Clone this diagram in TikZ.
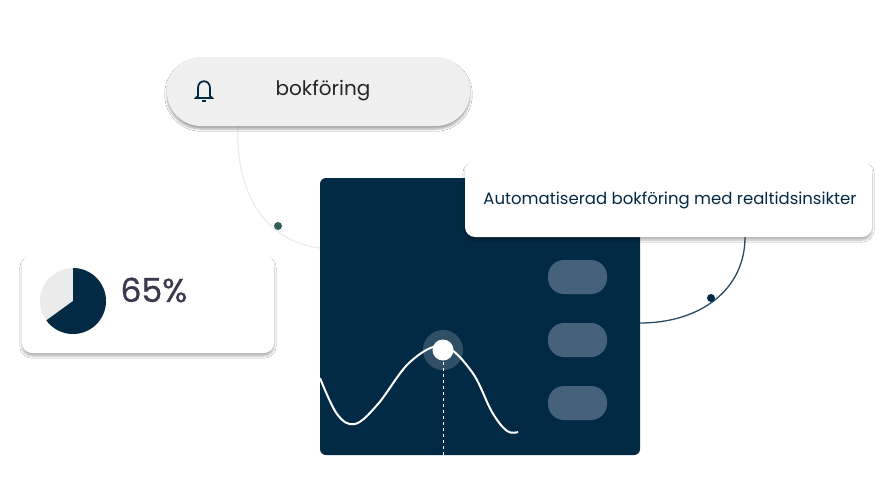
\documentclass[tikz,border=0pt]{standalone}
\usepackage{fontspec}
\setmainfont{Poppins}
\newfontfamily\pctfont[FakeBold=0.8]{Poppins}
\usetikzlibrary{shadows.blur}
\definecolor{navy}{HTML}{032A45}
\definecolor{pillg}{HTML}{EFEFEF}
\definecolor{pillin}{HTML}{46627A}
\definecolor{dotg}{HTML}{2F5F55}
\definecolor{txt}{HTML}{3A3A4F}
\tikzset{
 card/.style={fill=white,rounded corners=10pt,blur shadow={shadow xshift=0pt,shadow yshift=-3pt,shadow blur steps=6,shadow opacity=30}},
 minipill/.style={fill=pillin,rounded corners=16pt},
 dotst/.style={circle,inner sep=0pt,minimum size=8pt},
}
\begin{document}
\begin{tikzpicture}[x=1pt,y=-1pt]
\useasboundingbox[fill=white] (0,0) rectangle (889,477);
% connectors
\coordinate (la) at (238,126);
\coordinate (lb) at (320,248);
\draw[black!8,line width=1.2pt] (la) .. controls (235,205) and (275,243) .. (lb);
\node[dotst,fill=dotg] (d1) at (278,226) {};
% panel
\fill[navy,rounded corners=6pt] (320,178) rectangle (640,455);
\coordinate (ra) at (745,237);
\coordinate (rb) at (640,323);
\draw[navy!85,line width=1.3pt] (ra) .. controls (745,290) and (700,323) .. (rb);
\node[dotst,fill=navy] (d2) at (711,298) {};
% pills
\foreach \y/\n in {260/p1,323/p2,386/p3}{\fill[minipill] (548,\y) rectangle (607,\y+34);}
% wave
\draw[white,line width=2pt] plot[smooth,tension=0.6] coordinates {(320,378) (337,414) (355,424) (378,404) (410,362) (443,346) (472,372) (492,412) (507,431) (518,432)};
\draw[white,dashed,line width=0.9pt] (443,350) -- (443,455);
\node[circle,fill=white,fill opacity=0.18,minimum size=40pt,inner sep=0pt] (halo) at (443,350) {};
\node[circle,fill=white,minimum size=21pt,inner sep=0pt] (knob) at (443,350) {};
% top pill
\path[fill=pillg,rounded corners=34pt,blur shadow={shadow xshift=0pt,shadow yshift=-3pt,shadow blur steps=6,shadow opacity=35}] (167,57) rectangle (470,126);
\node[font=\fontsize{20}{24}\selectfont,text=black!85] (toptxt) at (323,91) {bokföring};
% bell
\begin{scope}[shift={(204,90)},navy,line width=1.8pt]
\draw (-8,8) -- (-6,6) -- (-6,-2) .. controls (-6,-11) and (6,-11) .. (6,-2) -- (6,6) -- (8,8) -- cycle;
\draw (-2,11) -- (2,11);
\end{scope}
% right card
\path[card] (465,161) rectangle (872,237);
\node[font=\fontsize{16.5}{20}\selectfont,text=navy] (atxt) at (670,200) {Automatiserad bokföring med realtidsinsikter};
% 65 card
\path[card] (22,255) rectangle (274,353);
\fill[black!8] (73,301) circle (33);
\fill[navy] (73,301) -- ++(-90:33) arc[start angle=-90,end angle=144,radius=33] -- cycle;
\node[font=\fontsize{33}{38}\pctfont,text=txt,anchor=west] (pct) at (117,290) {65\%};
\end{tikzpicture}
\end{document}
